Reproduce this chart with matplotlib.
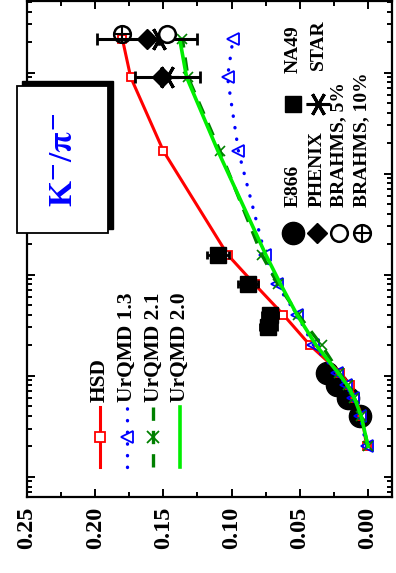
import numpy as np
import matplotlib
matplotlib.use("Agg")
import matplotlib.pyplot as plt
from matplotlib.patches import Rectangle
from matplotlib.ticker import MultipleLocator, LogLocator, NullFormatter

plt.rcParams['font.family'] = ['Liberation Serif', 'DejaVu Serif']
plt.rcParams['font.weight'] = 'bold'
plt.rcParams['mathtext.fontset'] = 'stix'

# beam energy E_lab [A GeV] of the model calculations
e_model = [2, 4, 6, 8, 10.7, 20, 40, 80, 158, 1672, 9000, 21300]
hsd = [0.001, 0.0045, 0.0095, 0.013, 0.0205, 0.0425, 0.062, 0.083, 0.103, 0.150, 0.174, 0.180]
urqmd13 = [0.001, 0.006, 0.011, 0.016, 0.023, 0.040, 0.052, 0.067, 0.0755, 0.095, 0.103, 0.099]
urqmd21 = [0.0, 0.005, 0.010, 0.015, 0.021, 0.034, 0.051, 0.066, 0.078, 0.1085, 0.132, 0.136]
urqmd20 = [0.0, 0.005, 0.010, 0.015, 0.022, 0.038, 0.052, 0.064, 0.075, 0.110, 0.133, 0.138]

# experimental points
e866_e = [4, 6, 8, 10.7]
e866_r = [0.0059, 0.0147, 0.023, 0.030]
na49_e = [30, 40, 80, 158]
na49_r = [0.073, 0.072, 0.088, 0.110]
na49_err = [0.006, 0.006, 0.007, 0.008]
phenix_e = [9000, 21300]
phenix_r = [0.151, 0.162]
phenix_err = [0.0, 0.037]
star_e = [9000, 21300]
star_r = [0.147, 0.153]
star_err = [0.024, 0.0]
brahms5_e = [24000]
brahms5_r = [0.147]
brahms10_e = [24000]
brahms10_r = [0.180]

W, H = 396, 573
fig = plt.figure(figsize=(W / 100, H / 100), dpi=100)
x0, x1, ytop, ybot = 27, 392, 1, 497
ax = fig.add_axes([x0 / W, (H - ybot) / H, (x1 - x0) / W, (ybot - ytop) / H])

def ax_xy(px, py):
    return (px - x0) / (x1 - x0), (ybot - py) / (ybot - ytop)

RED = '#ff0000'
BLUE = '#0000ff'
DGREEN = '#008000'
LGREEN = '#00ee00'

# E866
ax.plot(e866_r, e866_e, 'o', color='black', ms=16, zorder=2, ls='none')

# models
ax.plot(hsd, e_model, '-s', color=RED, lw=2.2, ms=6, mfc='white', mec=RED, mew=1.3, zorder=3)
ax.plot(urqmd13, e_model, color=BLUE, lw=2.4, ls=(0, (0.1, 3.4)), dash_capstyle='round', zorder=3)
ax.plot(urqmd13, e_model, '<', color=BLUE, ms=8, mfc='none', mec=BLUE, mew=1.3, zorder=3, ls='none')
ax.plot(urqmd21, e_model, color=DGREEN, lw=2.4, ls=(0, (4, 3)), marker='x', ms=7, mew=1.2, zorder=3)
ax.plot(urqmd20, e_model, '-', color=LGREEN, lw=2.6, zorder=4)

# data on top
ax.errorbar(na49_r, na49_e, xerr=na49_err, fmt='s', color='black', ms=11, elinewidth=2,
            capsize=3, capthick=2, zorder=5)
ax.errorbar(phenix_r, phenix_e, xerr=phenix_err, fmt='D', color='black', ms=10, elinewidth=2.2,
            capsize=4, capthick=2, zorder=5)
ax.errorbar(star_r, star_e, xerr=star_err, fmt='none', ecolor='black', elinewidth=2.2,
            capsize=4, capthick=2, zorder=5)
ax.plot(star_r, star_e, marker=(6, 2, 90), color='black', ms=17, mew=2.2, ls='none', zorder=6)
ax.plot(brahms5_r, brahms5_e, 'o', mfc='white', mec='black', ms=12, mew=1.8, ls='none', zorder=6)
ax.plot(brahms10_r, brahms10_e, 'o', mfc='none', mec='black', ms=12, mew=1.8, ls='none', zorder=6)
ax.plot(brahms10_r, brahms10_e, '+', color='black', ms=12, mew=1.5, ls='none', zorder=6)

ax.set_yscale('log')
ax.set_xlim(0.25, -0.0176)
ax.set_ylim(0.63, 51000)
ax.xaxis.set_major_locator(MultipleLocator(0.05))
ax.xaxis.set_minor_locator(MultipleLocator(0.025))
ax.yaxis.set_major_locator(LogLocator(base=10, numticks=10))
ax.yaxis.set_minor_locator(LogLocator(base=10, subs=np.arange(2, 10), numticks=10))
ax.yaxis.set_major_formatter(NullFormatter())
ax.yaxis.set_minor_formatter(NullFormatter())
ax.tick_params(which='both', direction='in', top=True, right=True, width=1.4)
ax.tick_params(which='major', length=6)
ax.tick_params(which='minor', length=3.5)
ax.set_xticks([0.25, 0.20, 0.15, 0.10, 0.05, 0.00])
ax.set_xticklabels(['0.25', '0.20', '0.15', '0.10', '0.05', '0.00'], rotation=90,
                   fontsize=17.5, fontweight='bold')
ax.tick_params(axis='x', pad=7)
for s in ax.spines.values():
    s.set_linewidth(1.6)

# model legend (vertical handles, rotated text)
leg = [('HSD', dict(color=RED, lw=2.2, marker='s', ms=7, mfc='white', mec=RED, mew=1.3)),
       ('UrQMD 1.3', dict(color=BLUE, lw=2.4, ls=(0, (0.1, 3.4)), dash_capstyle='round',
                          marker='<', ms=9, mfc='none', mec=BLUE, mew=1.3)),
       ('UrQMD 2.1', dict(color=DGREEN, lw=2.4, ls=(0, (4, 3)), marker='x', ms=9, mew=1.3)),
       ('UrQMD 2.0', dict(color=LGREEN, lw=2.6))]
for i, (label, style) in enumerate(leg):
    px = 100 + i * 26.7
    xa, ya1 = ax_xy(px, 467)
    _, ya2 = ax_xy(px, 407)
    _, ym = ax_xy(px, 437)
    ax.plot([xa, xa, xa], [ya1, ym, ya2], transform=ax.transAxes, markevery=[1],
            clip_on=False, zorder=7, **style)
    _, yt = ax_xy(px, 402)
    ax.text(xa, yt, label, transform=ax.transAxes, rotation=90, rotation_mode='anchor',
            ha='left', va='center', fontsize=15.5, fontweight='bold')

# experiment legend
exp_leg = [('E866', 293, 233, 207, dict(marker='o', color='black', ms=16)),
           ('PHENIX', 317, 233, 207, dict(marker='D', color='black', ms=10)),
           ('BRAHMS, 5%', 339, 233, 207, dict(marker='o', mfc='white', mec='black', ms=12, mew=1.8)),
           ('BRAHMS, 10%', 362, 233, 207, dict(marker='o', mfc='none', mec='black', ms=12, mew=1.8)),
           ('NA49', 293, 104, 73, dict(marker='s', color='black', ms=12)),
           ('STAR', 318, 104, 70, dict(marker=(6, 2, 90), color='black', ms=17, mew=2.2))]
for label, px, pym, pyt, style in exp_leg:
    xa, ya = ax_xy(px, pym)
    ax.plot([xa], [ya], transform=ax.transAxes, ls='none', clip_on=False, zorder=7, **style)
    if label == 'BRAHMS, 10%':
        ax.plot([xa], [ya], '+', color='black', ms=12, mew=1.5, transform=ax.transAxes, zorder=7)
    _, yt = ax_xy(px, pyt)
    ax.text(xa, yt, label, transform=ax.transAxes, rotation=90, rotation_mode='anchor',
            ha='left', va='center', fontsize=14, fontweight='bold')

# K-/pi- label box with shadow
fig.add_artist(Rectangle((21.5 / W, (H - 229) / H), 91 / W, 148 / H, transform=fig.transFigure,
                         facecolor='black', edgecolor='black', zorder=8))
fig.add_artist(Rectangle((17 / W, (H - 233) / H), 91 / W, 147 / H, transform=fig.transFigure,
                         facecolor='white', edgecolor='black', lw=1.3, zorder=9))
fig.text(63 / W, (H - 160) / H, r'K$^{\mathbf{-}}$/$\mathbf{\pi}^{\mathbf{-}}$', rotation=90,
         ha='center', va='center', color=BLUE, fontsize=24, fontweight='bold', zorder=10)

fig.savefig('out.png', dpi=100)
